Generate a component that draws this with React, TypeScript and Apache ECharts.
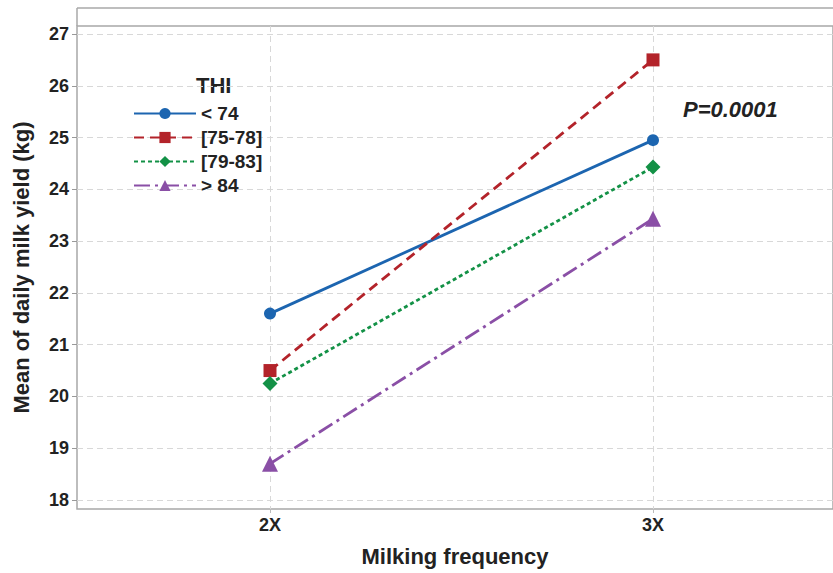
import React, { useEffect, useRef } from "react";
import * as echarts from "echarts";

const categories = ["2X", "3X"];
const categoryPos = [2, 3];
const seriesNames = ["< 74", "[75-78]", "[79-83]", "> 84"];
const lt74 = [21.6, 24.95];
const r7578 = [20.5, 26.5];
const r7983 = [20.25, 24.43];
const gt84 = [18.7, 23.43];
const yTicks = [18, 19, 20, 21, 22, 23, 24, 25, 26, 27];

const colors = ["#1c65b0", "#b3232a", "#139146", "#8a4fa6"];
const symbols = ["circle", "rect", "diamond", "triangle"];
const lineTypes: any[] = ["solid", [10, 6], [4, 3], [16, 5, 3, 5]];

export default function App() {
  const ref = useRef<HTMLDivElement>(null);
  useEffect(() => {
    if (!ref.current) return;
    const chart = echarts.init(ref.current, null, { renderer: "svg" });
    const allData = [lt74, r7578, r7983, gt84];
    const tickFont = {
      fontFamily: "Liberation Sans Narrow, Arial Narrow, Liberation Sans, sans-serif",
      fontWeight: "bold" as const,
      fontSize: 18,
      color: "#222",
    };
    chart.setOption({
      animation: false,
      backgroundColor: "#fff",
      grid: {
        left: 77,
        right: 0,
        top: 26,
        bottom: 64,
        show: true,
        borderColor: "#a8a8a8",
        borderWidth: 1.5,
      },
      legend: {
        orient: "vertical",
        left: 128,
        top: 99,
        itemWidth: 62,
        itemHeight: 14,
        itemGap: 5,
        data: seriesNames,
        textStyle: {
          fontFamily: "Liberation Sans, Arial, sans-serif",
          fontWeight: "bold",
          fontSize: 19,
          color: "#222",
        },
      },
      xAxis: {
        type: "value",
        min: 2 - 193 / 383,
        max: 3 + 180 / 383,
        name: "Milking frequency",
        nameLocation: "middle",
        nameGap: 36,
        nameTextStyle: {
          fontFamily: "Liberation Sans, Arial, sans-serif",
          fontWeight: "bold",
          fontSize: 22,
          color: "#222",
        },
        axisLine: { show: false },
        axisTick: { show: true, customValues: categoryPos, length: 4, lineStyle: { color: "#bbb" } },
        axisLabel: {
          customValues: categoryPos,
          formatter: (v: number) => categories[categoryPos.indexOf(v)] ?? "",
          margin: 7,
          ...tickFont,
        },
        splitLine: { show: true, lineStyle: { color: "#d8d8d8", type: [6, 4], width: 1 } },
      },
      yAxis: {
        type: "value",
        min: 18 - 9 / 51.78,
        max: 27 + 8 / 51.78,
        name: "Mean of daily milk yield (kg)",
        nameLocation: "middle",
        nameGap: 45,
        nameTextStyle: {
          fontFamily: "Liberation Sans, Arial, sans-serif",
          fontWeight: "bold",
          fontSize: 22,
          color: "#222",
        },
        axisLine: { show: false },
        axisTick: { show: true, customValues: yTicks, length: 5, lineStyle: { color: "#999" } },
        axisLabel: { customValues: yTicks, margin: 8, ...tickFont },
        splitLine: { show: true, lineStyle: { color: "#d8d8d8", type: [6, 4], width: 1 } },
      },
      series: seriesNames.map((n, i) => ({
        name: n,
        type: "line",
        clip: false,
        data: categoryPos.map((x, j) => [x, allData[i][j]]),
        symbol: symbols[i],
        symbolSize: i === 3 ? 16 : i === 2 ? 15 : i === 1 ? 13 : 12,
        color: colors[i],
        lineStyle: { color: colors[i], width: 2.8, type: lineTypes[i] },
        itemStyle: { color: colors[i] },
      })),
      graphic: [
        {
          type: "line",
          shape: { x1: 77, y1: 8, x2: 833, y2: 8 },
          style: { stroke: "#a8a8a8", lineWidth: 1.5 },
        },
        {
          type: "line",
          shape: { x1: 77, y1: 8, x2: 77, y2: 26 },
          style: { stroke: "#a8a8a8", lineWidth: 1.5 },
        },
        {
          type: "text",
          left: 196,
          top: 74,
          style: {
            text: "THI",
            font: "bold 22px Liberation Sans, Arial, sans-serif",
            fill: "#222",
          },
        },
        {
          type: "text",
          left: 683,
          top: 98,
          style: {
            text: "P=0.0001",
            font: "italic bold 22px Liberation Sans, Arial, sans-serif",
            fill: "#222",
          },
        },
      ],
    });
    return () => chart.dispose();
  }, []);
  return <div ref={ref} style={{ width: 833, height: 573, position: "absolute", left: 0, top: 0 }} />;
}
